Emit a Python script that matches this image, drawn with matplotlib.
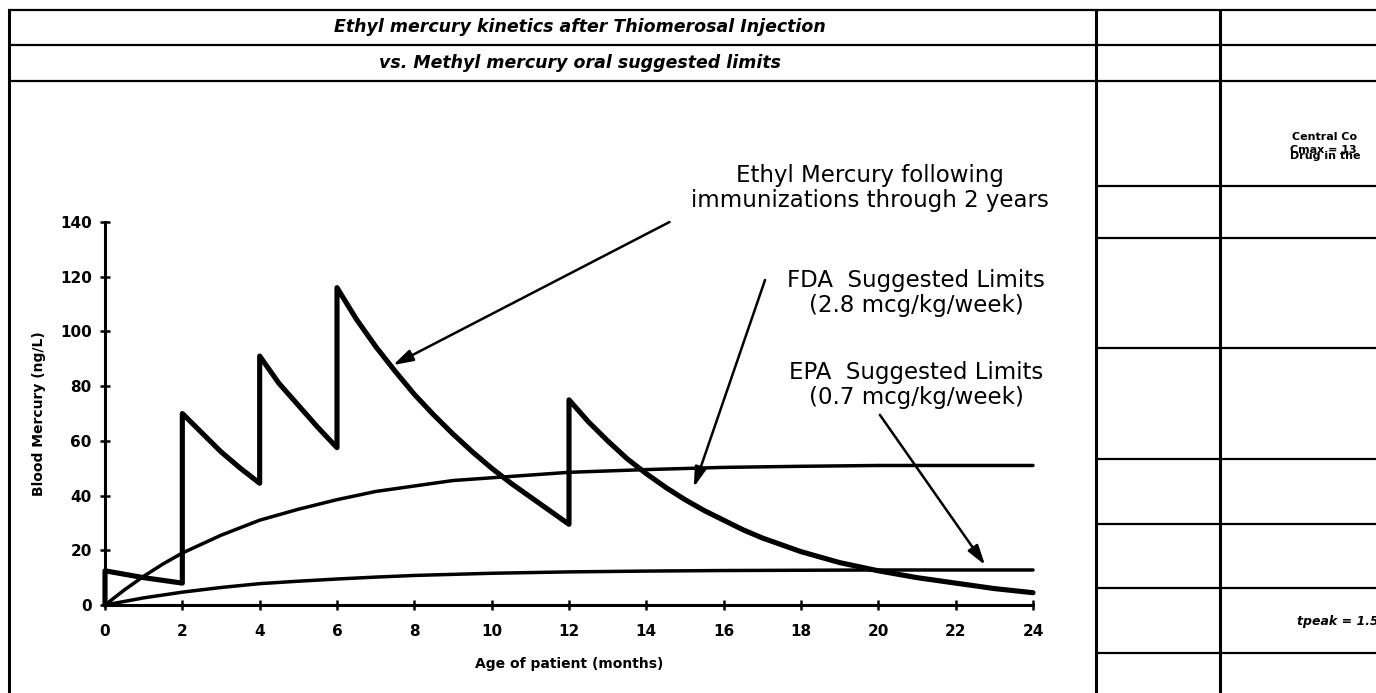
import matplotlib
matplotlib.use("Agg")
import matplotlib.pyplot as plt
from matplotlib.lines import Line2D

# ---------------- data ----------------
ethyl_months = [0, 0, 1, 2, 2, 2.5, 3, 3.5, 4, 4, 4.5, 5, 5.5, 6, 6, 6.5, 7, 7.5, 8,
                8.5, 9, 9.5, 10, 10.5, 11, 11.5, 12, 12, 12.5, 13, 13.5, 14, 14.5,
                15, 15.5, 16, 16.5, 17, 18, 19, 20, 21, 22, 23, 24]
ethyl_level = [0, 12.5, 10, 8, 70, 63, 56, 50, 44.5, 91, 81, 73, 65, 57.5, 116, 104.5,
               94.5, 85.5, 77, 69.5, 62.5, 56, 50, 44.5, 39.5, 34.5, 29.5, 75, 67, 60,
               53.5, 48, 43, 38.5, 34.5, 31, 27.5, 24.5, 19.5, 15.5, 12.5, 10, 8, 6,
               4.5]

fda_months = [0, 0.5, 1, 1.5, 2, 3, 4, 5, 6, 7, 8, 9, 10, 11, 12, 13, 14, 16, 18,
              20, 22, 24]
fda_level = [0, 5.5, 10.5, 15, 19, 25.5, 31, 35, 38.5, 41.5, 43.5, 45.5, 46.5, 47.5,
             48.5, 49, 49.5, 50.3, 50.7, 51, 51, 51]

epa_months = [0, 1, 2, 3, 4, 5, 6, 7, 8, 9, 10, 12, 14, 16, 18, 20, 22, 24]
epa_level = [0, 2.6, 4.7, 6.4, 7.8, 8.7, 9.5, 10.2, 10.8, 11.2, 11.6, 12.1, 12.4,
             12.6, 12.7, 12.8, 12.8, 12.8]

x_ticks = list(range(0, 25, 2))
y_ticks = list(range(0, 141, 20))

title_line1 = "Ethyl mercury kinetics after Thiomerosal Injection"
title_line2 = "vs. Methyl mercury oral suggested limits"
x_label = "Age of patient (months)"
y_label = "Blood Mercury (ng/L)"
note_ethyl = "Ethyl Mercury following\nimmunizations through 2 years"
note_fda = "FDA  Suggested Limits\n(2.8 mcg/kg/week)"
note_epa = "EPA  Suggested Limits\n(0.7 mcg/kg/week)"

# ---------------- figure ----------------
W, H = 1376, 693
fig = plt.figure(figsize=(W / 100, H / 100), dpi=100)
fig.patch.set_facecolor("white")


def fx(px):
    return px / W


def fy(py):
    return 1 - py / H


def hline(y, x0, x1, lw=1.6):
    fig.add_artist(Line2D([fx(x0), fx(x1)], [fy(y), fy(y)], transform=fig.transFigure,
                          color="black", lw=lw, solid_capstyle="butt"))


def vline(x, y0, y1, lw=2.2):
    fig.add_artist(Line2D([fx(x), fx(x)], [fy(y0), fy(y1)], transform=fig.transFigure,
                          color="black", lw=lw, solid_capstyle="butt"))


# table grid
vline(9, 9, 693)
for y in (10, 45, 81):
    hline(y, 8, W)
vline(1096, 9, 693)
vline(1220, 9, 693)
for y in (186, 238, 348, 459, 524, 588, 653):
    hline(y, 1096, W)

# titles
fig.text(fx(580), fy(27.5), title_line1, ha="center", va="center", fontsize=12.5,
         fontweight="bold", fontstyle="italic", family="DejaVu Sans")
fig.text(fx(580), fy(63), title_line2, ha="center", va="center", fontsize=12.5,
         fontweight="bold", fontstyle="italic", family="DejaVu Sans")

# right-hand cell texts (clipped by the page edge, as in the reference)
fig.text(fx(1292), fy(137), "Central Co", ha="left", va="center", fontsize=8,
         fontweight="bold")
fig.text(fx(1290), fy(150), "Cmax = 13", ha="left", va="center", fontsize=8,
         fontweight="bold")
fig.text(fx(1290), fy(156), "Drug in the", ha="left", va="center", fontsize=8,
         fontweight="bold")
fig.text(fx(1297), fy(621), "tpeak = 1.5", ha="left", va="center", fontsize=9,
         fontweight="bold", fontstyle="italic")

# ---------------- axes ----------------
ax = fig.add_axes([fx(105), fy(605), (1033 - 105) / W, (605 - 222) / H])
ax.set_xlim(0, 24)
ax.set_ylim(0, 140)
ax.set_facecolor("none")

ax.plot(fda_months, fda_level, color="black", lw=2.5, clip_on=False,
        solid_joinstyle="round", solid_capstyle="round")
ax.plot(epa_months, epa_level, color="black", lw=2.5, clip_on=False,
        solid_joinstyle="round", solid_capstyle="round")
ax.plot(ethyl_months, ethyl_level, color="black", lw=3.7, clip_on=False,
        solid_joinstyle="round", solid_capstyle="round")

for s in ("top", "right"):
    ax.spines[s].set_visible(False)
for s in ("left", "bottom"):
    ax.spines[s].set_linewidth(2.2)

ax.set_xticks(x_ticks)
ax.set_yticks(y_ticks)
ax.tick_params(axis="both", direction="inout", length=7, width=1.8, labelsize=11)
ax.tick_params(axis="x", pad=10)
ax.tick_params(axis="y", pad=6)
for lab in ax.get_xticklabels() + ax.get_yticklabels():
    lab.set_fontweight("bold")

ax.set_xlabel(x_label, fontsize=10, fontweight="bold", labelpad=13)
ax.set_ylabel(y_label, fontsize=10, fontweight="bold", labelpad=10)

# annotations
arrow = dict(arrowstyle="-|>,head_length=0.6,head_width=0.18", color="black",
             lw=1.8, mutation_scale=20, shrinkA=0, shrinkB=0)
ax.annotate("", xy=(7.45, 87.7), xytext=(14.6, 140.0), xycoords="data",
            textcoords="data", arrowprops=arrow, annotation_clip=False)
ax.annotate("", xy=(15.23, 43.1), xytext=(17.07, 118.8), xycoords="data",
            textcoords="data", arrowprops=arrow, annotation_clip=False)
ax.annotate("", xy=(22.76, 14.6), xytext=(20.04, 69.5), xycoords="data",
            textcoords="data", arrowprops=arrow, annotation_clip=False)

fig.text(fx(870), fy(188), note_ethyl, ha="center", va="center", fontsize=16.5,
         linespacing=1.15)
fig.text(fx(916), fy(293), note_fda, ha="center", va="center", fontsize=16.5,
         linespacing=1.15)
fig.text(fx(916), fy(385), note_epa, ha="center", va="center", fontsize=16.5,
         linespacing=1.15)

fig.savefig("out.png", dpi=100, facecolor="white")
